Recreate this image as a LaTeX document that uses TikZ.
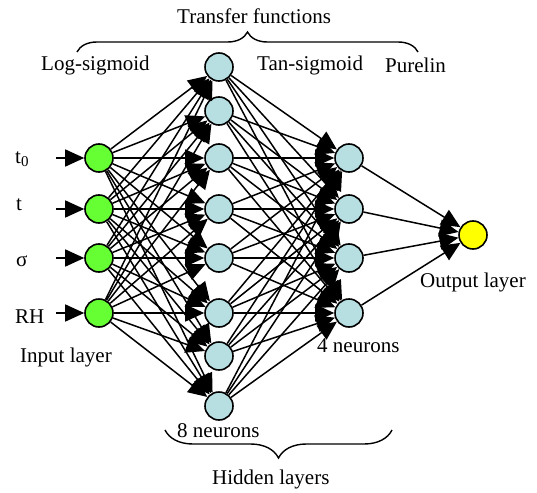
\documentclass[tikz,border=0pt]{standalone}
\usepackage{fontspec}
\setmainfont{Liberation Serif}
\usetikzlibrary{arrows.meta, positioning, decorations.pathreplacing}
\definecolor{inputgreen}{RGB}{102,255,51}
\definecolor{hiddenblue}{RGB}{183,223,226}
\definecolor{outputyellow}{RGB}{255,255,0}

\begin{document}
\begin{tikzpicture}[
    x=1pt, y=-1pt,
    font=\fontsize{21}{24}\selectfont,
    neuron/.style={circle, draw, line width=1.6pt, minimum size=28pt, inner sep=0pt},
    inneuron/.style={neuron, fill=inputgreen},
    hidneuron/.style={neuron, fill=hiddenblue},
    outneuron/.style={neuron, fill=outputyellow},
    link/.style={-{Triangle[length=19pt,width=17pt]}, line width=1.5pt},
    brace/.style={decorate, line width=1.4pt},
    txt/.style={inner sep=0pt, anchor=base west}
]
\useasboundingbox (0,0) rectangle (537,492);

% Input layer
\node[inneuron] (in1) at (99,158) {};
\node[inneuron] (in2) at (99,209) {};
\node[inneuron] (in3) at (99,258) {};
\node[inneuron] (in4) at (99,313) {};

% First hidden layer (8 neurons)
\foreach \y [count=\i] in {67,111,158,209,258,313,356,406}
    \node[hidneuron] (ha\i) at (219,\y) {};

% Second hidden layer (4 neurons)
\foreach \y [count=\i] in {158,209,258,313}
    \node[hidneuron] (hb\i) at (349,\y) {};

% Output layer
\node[outneuron] (out) at (473,235) {};

% Input signals
\foreach \y [count=\i] in {158,209,258,313} {
    \coordinate (src\i) at (56,\y);
    \draw[link] (src\i) -- (in\i);
}
\node[txt] (lt0) at (15,163) {t\raisebox{-0.35ex}{\fontsize{15}{15}\selectfont 0}};
\node[txt] (lt) at (16,210) {t};
\node[txt] (lsigma) at (16,266) {σ};
\node[txt] (lrh) at (15,323) {RH};

% Connections
\foreach \i in {1,...,4}
    \foreach \j in {1,...,8}
        \draw[link] (in\i) -- (ha\j);
\foreach \j in {1,...,8}
    \foreach \k in {1,...,4}
        \draw[link] (ha\j) -- (hb\k);
\foreach \k in {1,...,4}
    \draw[link] (hb\k) -- (out);

% Labels
\node[txt] (tf) at (177,24) {Transfer functions};
\node[txt] (logsig) at (41,71) {Log-sigmoid};
\node[txt] (tansig) at (257,71) {Tan-sigmoid};
\node[txt] (purelin) at (385,73) {Purelin};
\node[txt] (inlayer) at (20,362) {Input layer};
\node[txt] (fourn) at (317,352) {4 neurons};
\node[txt] (outlayer) at (420,287) {Output layer};
\node[txt] (eightn) at (177,437) {8 neurons};
\node[txt] (hidlayers) at (212,484) {Hidden layers};

% Braces
\coordinate (tfl) at (77,52);
\coordinate (tfr) at (418,52);
\draw[brace, decoration={brace, amplitude=20pt}] (tfl) -- (tfr);
\coordinate (hlr) at (392,430);
\coordinate (hll) at (165,430);
\draw[brace, decoration={brace, amplitude=28pt}] (hlr) -- (hll);

\end{tikzpicture}
\end{document}
